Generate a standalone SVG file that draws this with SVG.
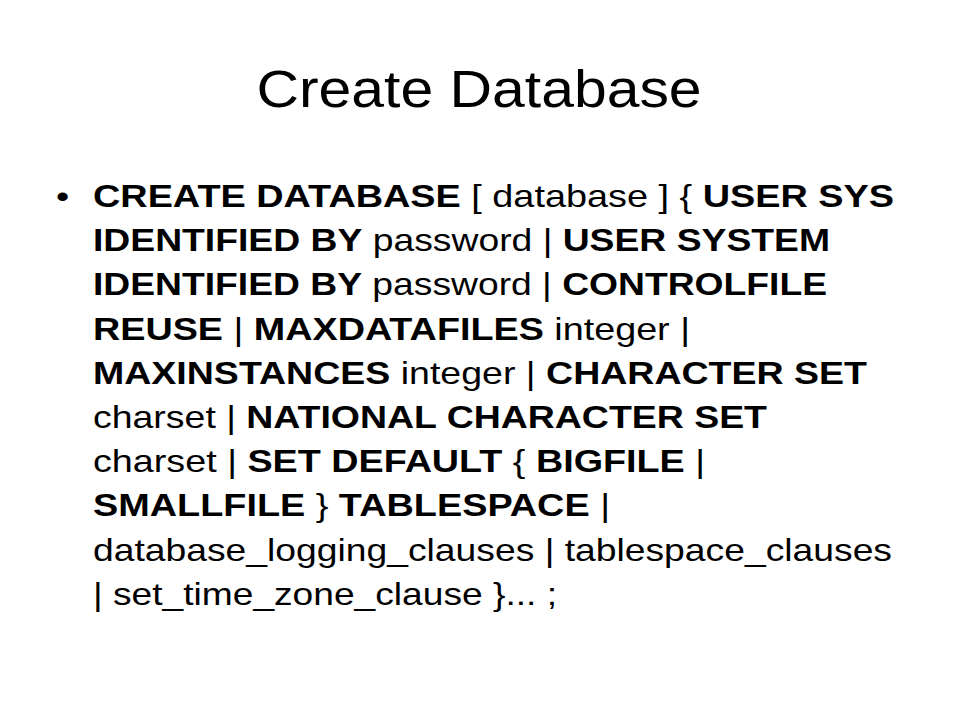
<svg xmlns="http://www.w3.org/2000/svg" width="960" height="720" viewBox="0 0 960 720">
<style>
.t{font-family:"Liberation Sans",Arial,sans-serif;font-size:51px;fill:#000}
.b{font-family:"Liberation Sans",Arial,sans-serif;font-size:32px;fill:#000}
.k{font-weight:bold}
</style>
<rect width="960" height="720" fill="#fff"/>
<g id="title" transform="translate(479,107) scale(1.155,1)"><text class="t" x="0" y="0" text-anchor="middle">Create Database</text></g>
<g id="bullet" transform="translate(56,0) scale(1.18,1)"><text class="b" x="0" y="207">•</text></g>
<g id="body">
<text class="b" x="93" y="207" textLength="801" lengthAdjust="spacingAndGlyphs"><tspan class="k">CREATE DATABASE</tspan> [ database ] { <tspan class="k">USER SYS</tspan></text>
<text class="b" x="93" y="251.2" textLength="737" lengthAdjust="spacingAndGlyphs"><tspan class="k">IDENTIFIED BY</tspan> password | <tspan class="k">USER SYSTEM</tspan></text>
<text class="b" x="93" y="295.4" textLength="734" lengthAdjust="spacingAndGlyphs"><tspan class="k">IDENTIFIED BY</tspan> password | <tspan class="k">CONTROLFILE</tspan></text>
<text class="b" x="93" y="339.6" textLength="597" lengthAdjust="spacingAndGlyphs"><tspan class="k">REUSE</tspan> | <tspan class="k">MAXDATAFILES</tspan> integer |</text>
<text class="b" x="93" y="383.8" textLength="774" lengthAdjust="spacingAndGlyphs"><tspan class="k">MAXINSTANCES</tspan> integer | <tspan class="k">CHARACTER SET</tspan></text>
<text class="b" x="93" y="428" textLength="674" lengthAdjust="spacingAndGlyphs">charset | <tspan class="k">NATIONAL CHARACTER SET</tspan></text>
<text class="b" x="93" y="472.2" textLength="612" lengthAdjust="spacingAndGlyphs">charset | <tspan class="k">SET DEFAULT</tspan> { <tspan class="k">BIGFILE</tspan> |</text>
<text class="b" x="93" y="516.4" textLength="517" lengthAdjust="spacingAndGlyphs"><tspan class="k">SMALLFILE</tspan> } <tspan class="k">TABLESPACE</tspan> |</text>
<text class="b" x="93" y="560.6" textLength="799" lengthAdjust="spacingAndGlyphs">database_logging_clauses | tablespace_clauses</text>
<text class="b" x="93" y="604.8" textLength="464" lengthAdjust="spacingAndGlyphs">| set_time_zone_clause }... ;</text>
</g>
</svg>
